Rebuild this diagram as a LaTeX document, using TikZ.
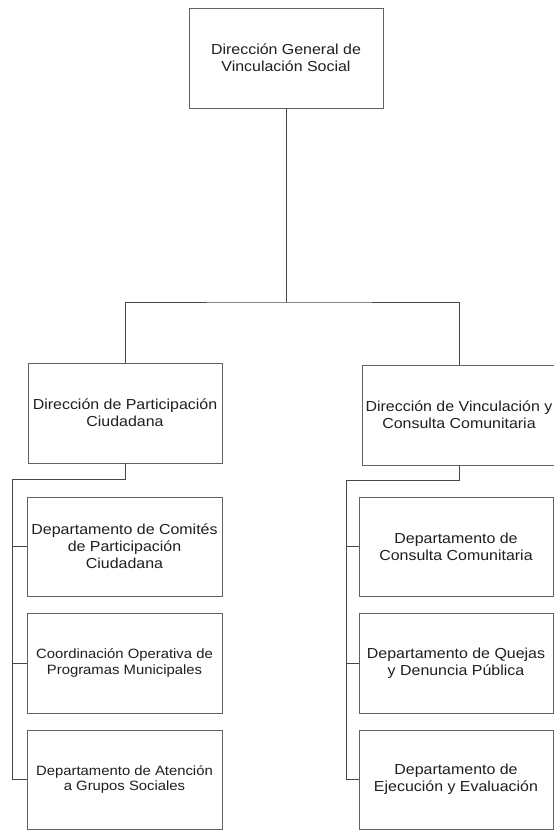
\documentclass[tikz,border=0pt]{standalone}
\usepackage{fontspec}
\setmainfont{Liberation Sans}[FakeStretch=1.1]
\begin{document}
\begin{tikzpicture}[x=1pt,y=-1pt,
  unit/.style={draw=black!62, line width=0.9pt, align=center, text=black!88,
    minimum width=194pt, minimum height=100pt, inner sep=0pt,
    font=\fontsize{14.5}{17}\selectfont},
  smallunit/.style={unit, font=\fontsize{13.5}{15.5}\selectfont},
  link/.style={draw=black!72, line width=0.9pt}]
\useasboundingbox (0,0) rectangle (554,830);
\fill[white] (0,0) rectangle (554,830);

% head office
\node[unit] (top) at (286,58) {Dirección General de\\Vinculación Social};

% directorates (the right one runs past the page edge)
\node[unit] (lm) at (125,413) {Dirección de Participación\\Ciudadana};
\node[unit, minimum width=198pt] (rm) at (461,415) {};
\node[font=\fontsize{14.5}{17}\selectfont, text=black!88, align=center] (rmtext) at (459,415) {Dirección de Vinculación y\\Consulta Comunitaria};

% departments under Participación Ciudadana
\node[unit, minimum width=195pt, minimum height=99pt] (lc1) at (124.5,546.5) {Departamento de Comités\\de Participación\\Ciudadana};
\node[smallunit, minimum width=195pt] (lc2) at (124.5,663) {Coordinación Operativa de\\Programas Municipales};
\node[smallunit, minimum width=195pt, minimum height=99pt] (lc3) at (124.5,779.5) {Departamento de Atención\\a Grupos Sociales};

% departments under Vinculación y Consulta Comunitaria
\node[unit, minimum height=99pt] (rc1) at (456,546.5) {Departamento de\\Consulta Comunitaria};
\node[unit] (rc2) at (456,663) {Departamento de Quejas\\y Denuncia Pública};
\node[unit, minimum height=99pt] (rc3) at (456,779.5) {Departamento de\\Ejecución y Evaluación};

% head office to directorates
\coordinate (bus) at (286,302);
\draw[link] (top.south) -- (bus);
\draw[link] (lm.north) |- (bus) -| (rmtext.north |- rm.north);

% left spine
\coordinate (ls) at (12,479);
\draw[link] (lm.south) |- (ls) -- (ls |- lc3.west) -- (lc3.west);
\draw[link] (ls |- lc1.west) -- (lc1.west);
\draw[link] (ls |- lc2.west) -- (lc2.west);

% right spine
\coordinate (rs) at (346,480);
\draw[link] (rmtext.south |- rm.south) |- (rs) -- (rs |- rc3.west) -- (rc3.west);
\draw[link] (rs |- rc1.west) -- (rc1.west);
\draw[link] (rs |- rc2.west) -- (rc2.west);
\end{tikzpicture}
\end{document}
